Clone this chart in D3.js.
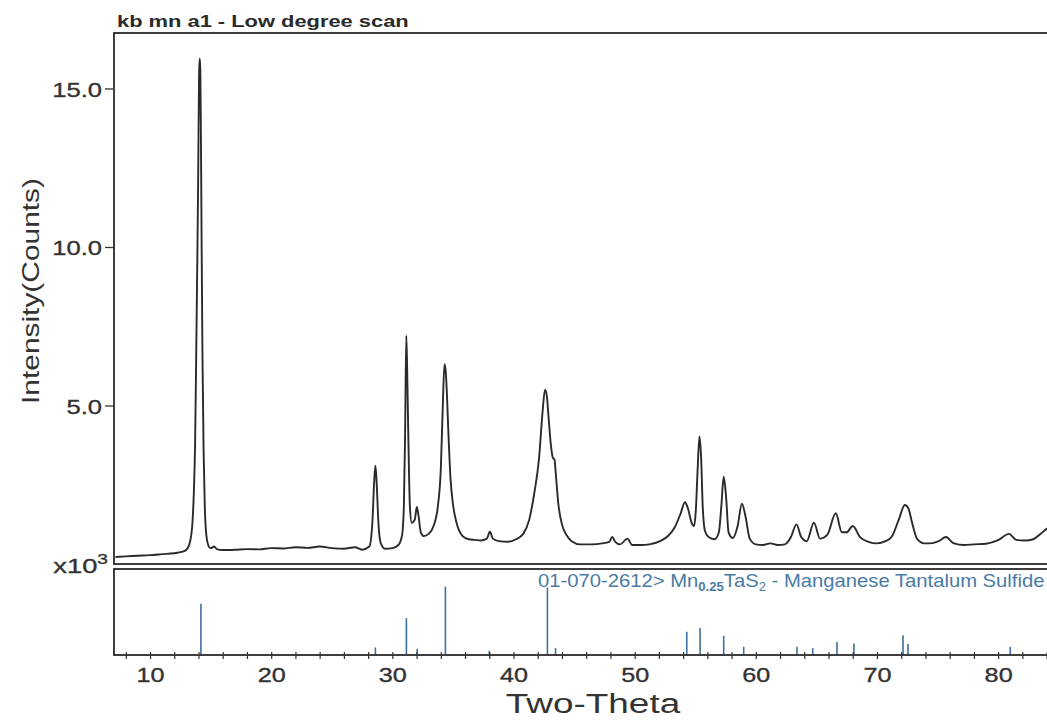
<!DOCTYPE html>
<html>
<head>
<meta charset="utf-8">
<script src="https://cdn.jsdelivr.net/npm/d3@7"></script>
<style>
    body { margin: 0; background: #fff; }
    svg { display: block; }
    text { font-family: "Liberation Sans", Arial, sans-serif; fill: #333; }
</style>
</head>
<body>
<svg id="chart" width="1047" height="720"></svg>
<script>
// Observed scan: 2-theta (deg) and intensity (x10^3 counts)
const scanTheta = [
    7.15, 8.0, 9.0, 10.0, 11.0, 12.0, 12.6, 13.0, 13.3, 13.5, 13.62, 13.72, 13.82, 13.9, 13.97,
    14.05, 14.1, 14.15, 14.2, 14.26, 14.33, 14.42, 14.52, 14.65, 14.8, 15.0, 15.3, 15.5, 16.0,
    17.0, 18.0, 19.0, 20.0, 21.0, 22.0, 23.0, 24.0, 25.0, 26.0, 26.9, 27.5, 28.1, 28.35, 28.5,
    28.6, 28.7, 28.85, 29.05, 29.4, 30.0, 30.5, 30.8, 30.95, 31.05, 31.15, 31.22, 31.32, 31.45,
    31.6, 31.85, 32.02, 32.15, 32.35, 32.6, 33.0, 33.4, 33.75, 34.0, 34.15, 34.3, 34.4, 34.5,
    34.62, 34.8, 35.0, 35.3, 35.8, 36.3, 36.8, 37.3, 37.8, 38.05, 38.3, 38.8, 39.5, 40.2, 40.8,
    41.3, 41.7, 42.1, 42.4, 42.6, 42.75, 42.9, 43.1, 43.25, 43.38, 43.5, 43.7, 44.0, 44.4, 44.8,
    45.5, 46.5, 47.3, 47.9, 48.15, 48.4, 48.8, 49.4, 49.8, 50.5, 51.2, 52.1, 52.8, 53.3, 53.8,
    54.15, 54.4, 54.7, 54.9, 55.05, 55.2, 55.35, 55.48, 55.62, 55.8, 56.1, 56.6, 56.95, 57.15,
    57.35, 57.55, 57.75, 58.1, 58.5, 58.85, 59.15, 59.5, 60.0, 60.6, 61.2, 61.8, 62.4, 62.9,
    63.35, 63.75, 64.2, 64.8, 65.3, 65.9, 66.6, 67.1, 67.5, 68.0, 68.6, 69.3, 70.0, 70.7, 71.2,
    71.8, 72.3, 72.6, 72.9, 73.3, 73.9, 74.6, 75.1, 75.7, 76.3, 77.2, 78.0, 79.0, 80.0, 80.9,
    81.5, 82.2, 82.9, 83.5, 84.1, 85.0
];
const scanCounts = [
    0.22, 0.24, 0.26, 0.28, 0.31, 0.34, 0.38, 0.45, 0.7, 1.3, 2.3, 3.8, 6.9, 9.5, 12.0,
    15.5, 15.95, 15.6, 13.5, 10.0, 6.5, 3.6, 1.8, 0.9, 0.6, 0.5, 0.55, 0.47, 0.44,
    0.45, 0.47, 0.46, 0.5, 0.49, 0.53, 0.51, 0.55, 0.5, 0.48, 0.53, 0.45, 0.55, 1.3, 2.6,
    3.1, 2.6, 1.3, 0.65, 0.48, 0.5, 0.6, 0.9, 1.8, 4.0, 7.2, 6.2, 4.0, 1.8,
    1.3, 1.4, 1.8, 1.55, 1.0, 0.88, 0.95, 1.2, 1.8, 3.0, 4.8, 6.3, 6.1, 5.4,
    4.2, 2.7, 1.9, 1.3, 0.88, 0.78, 0.76, 0.74, 0.8, 1.02, 0.8, 0.72, 0.7, 0.78, 0.95,
    1.4, 2.2, 3.3, 4.8, 5.5, 5.3, 4.6, 3.7, 3.35, 3.3, 2.8, 1.9, 1.25, 0.9, 0.72,
    0.62, 0.62, 0.65, 0.7, 0.85, 0.7, 0.62, 0.8, 0.6, 0.6, 0.62, 0.72, 0.9, 1.15, 1.6,
    1.95, 1.75, 1.3, 1.2, 1.7, 3.0, 4.02, 3.4, 1.8, 1.05, 0.85, 0.78, 1.0, 1.8,
    2.75, 2.1, 1.0, 0.82, 1.2, 1.9, 1.5, 0.8, 0.62, 0.6, 0.65, 0.6, 0.62, 0.85,
    1.25, 0.85, 0.72, 1.3, 0.8, 0.92, 1.6, 1.0, 1.0, 1.2, 0.85, 0.7, 0.65, 0.72, 0.85,
    1.4, 1.86, 1.75, 1.3, 0.8, 0.65, 0.66, 0.72, 0.85, 0.66, 0.6, 0.62, 0.64, 0.75, 0.95,
    0.76, 0.74, 0.78, 0.95, 1.13, 1.3
];

// Reference pattern 01-070-2612 (relative intensity, %)
const refTheta = [14.2, 28.6, 31.16, 32.05, 34.38, 38.0, 42.8, 43.47, 54.3, 55.4, 57.35,
    59.0, 63.4, 64.7, 66.7, 68.1, 72.15, 72.56, 81.0];
const refIntensity = [75, 11, 54, 9, 100, 6, 99, 10, 34, 40, 28,
    12, 12, 10, 19, 17, 29, 16, 12];

const yTickValues = [5, 10, 15];
const xTickValues = d3.range(8, 86, 2);
const titleText = 'kb mn a1 - Low degree scan';
const xLabelText = 'Two-Theta';
const yLabelText = 'Intensity(Counts)';

const svg = d3.select('#chart');
const frame = { left: 114, right: 1060, top: 33, mid: 564, refTop: 569, bottom: 655 };

const x = d3.scaleLinear().domain([7.1, 85]).range([114.9, 1058.7]);
const y = d3.scaleLinear().domain([0, 16.75]).range([frame.mid, frame.top]);
const yRef = d3.scaleLinear().domain([0, 126]).range([frame.bottom, frame.refTop]);

// stretch a text group horizontally (along its own direction) to a measured width
function stretchTo(sel, width) {
    const w = sel.select('text').node().getBBox().width;
    sel.select('text').attr('transform', `scale(${width / w},1)`);
}

svg.append('clipPath').attr('id', 'clipTop')
    .append('rect')
    .attr('x', frame.left).attr('y', frame.top)
    .attr('width', frame.right - frame.left).attr('height', frame.mid - frame.top);

// observed scan
const line = d3.line()
    .x((d, i) => x(scanTheta[i]))
    .y(d => y(d))
    .curve(d3.curveMonotoneX);

svg.append('path')
    .datum(scanCounts)
    .attr('clip-path', 'url(#clipTop)')
    .attr('d', line)
    .style('fill', 'none')
    .style('stroke', '#2a2a2a')
    .style('stroke-width', 1.9)
    .style('stroke-linejoin', 'round');

// reference sticks
svg.append('g')
    .selectAll('line')
    .data(refIntensity)
    .enter()
    .append('line')
    .attr('x1', (d, i) => x(refTheta[i]))
    .attr('x2', (d, i) => x(refTheta[i]))
    .attr('y1', yRef(0))
    .attr('y2', d => yRef(d))
    .style('stroke', '#3f6f9f')
    .style('stroke-width', 1.6);

// frames
svg.append('rect')
    .attr('x', frame.left).attr('y', frame.top)
    .attr('width', frame.right - frame.left).attr('height', frame.mid - frame.top)
    .style('fill', 'none').style('stroke', '#2a2a2a').style('stroke-width', 1.8);

svg.append('rect')
    .attr('x', frame.left).attr('y', frame.refTop)
    .attr('width', frame.right - frame.left).attr('height', frame.bottom - frame.refTop)
    .style('fill', 'none').style('stroke', '#2a2a2a').style('stroke-width', 1.8);

// y axis
const yAxisG = svg.append('g')
    .attr('transform', `translate(${frame.left},0)`)
    .call(d3.axisLeft(y).tickValues(yTickValues).tickFormat(d3.format('.1f')).tickSize(9).tickPadding(3));
yAxisG.select('.domain').remove();
yAxisG.selectAll('line').style('stroke', '#333').style('stroke-width', 1.3);
yAxisG.selectAll('text')
    .attr('x', null)
    .attr('dy', '0.36em')
    .attr('transform', 'translate(-12,0) scale(1.22,1)')
    .style('font-size', '21px')
    .style('fill', '#333')
    .style('stroke', '#333')
    .style('stroke-width', 0.35);

// x axis on the reference panel
const xAxisG = svg.append('g')
    .attr('transform', `translate(0,${frame.bottom})`)
    .call(d3.axisBottom(x).tickValues(xTickValues).tickFormat(d => d % 10 === 0 ? d : '').tickSize(4));
xAxisG.select('.domain').remove();
xAxisG.selectAll('line').attr('y1', -3).attr('y2', 4).style('stroke', '#333').style('stroke-width', 1.2);
xAxisG.selectAll('text')
    .attr('y', 0)
    .attr('dy', null)
    .attr('transform', 'translate(0,27) scale(1.2,1)')
    .style('font-size', '21px')
    .style('fill', '#333')
    .style('stroke', '#333')
    .style('stroke-width', 0.35);

// title
const titleG = svg.append('g').attr('transform', 'translate(117,27)');
titleG.append('text')
    .style('font-size', '17px')
    .style('font-weight', 'bold')
    .style('fill', '#2a2a2a')
    .text(titleText);
stretchTo(titleG, 292);

// y label
const yLabelG = svg.append('g').attr('transform', 'translate(39,291) rotate(-90)');
yLabelG.append('text')
    .attr('text-anchor', 'middle')
    .style('font-size', '24px')
    .text(yLabelText);
stretchTo(yLabelG, 226);

// x label
const xLabelG = svg.append('g').attr('transform', 'translate(593,713)');
xLabelG.append('text')
    .attr('text-anchor', 'middle')
    .style('font-size', '28px')
    .text(xLabelText);
stretchTo(xLabelG, 175);

// multiplier
const multG = svg.append('g').attr('transform', 'translate(108,573)');
const multText = multG.append('text').attr('text-anchor', 'end')
    .style('font-size', '20px').style('stroke', '#333').style('stroke-width', 0.35);
multText.append('tspan').text('x10');
multText.append('tspan').attr('dy', -9).style('font-size', '14px').text('3');
stretchTo(multG, 55);

// reference card label
const refG = svg.append('g').attr('transform', 'translate(538,587)');
const refText = refG.append('text').style('font-size', '18.5px').style('fill', '#4a7ba5');
refText.append('tspan').text('01-070-2612> Mn');
refText.append('tspan').attr('dy', 4).style('font-size', '12px').style('font-weight', 'bold').text('0.25');
refText.append('tspan').attr('dy', -4).text('TaS');
refText.append('tspan').attr('dy', 4).style('font-size', '12px').text('2');
refText.append('tspan').attr('dy', -4).text(' - Manganese Tantalum Sulfide');
stretchTo(refG, 507);
</script>
</body>
</html>
